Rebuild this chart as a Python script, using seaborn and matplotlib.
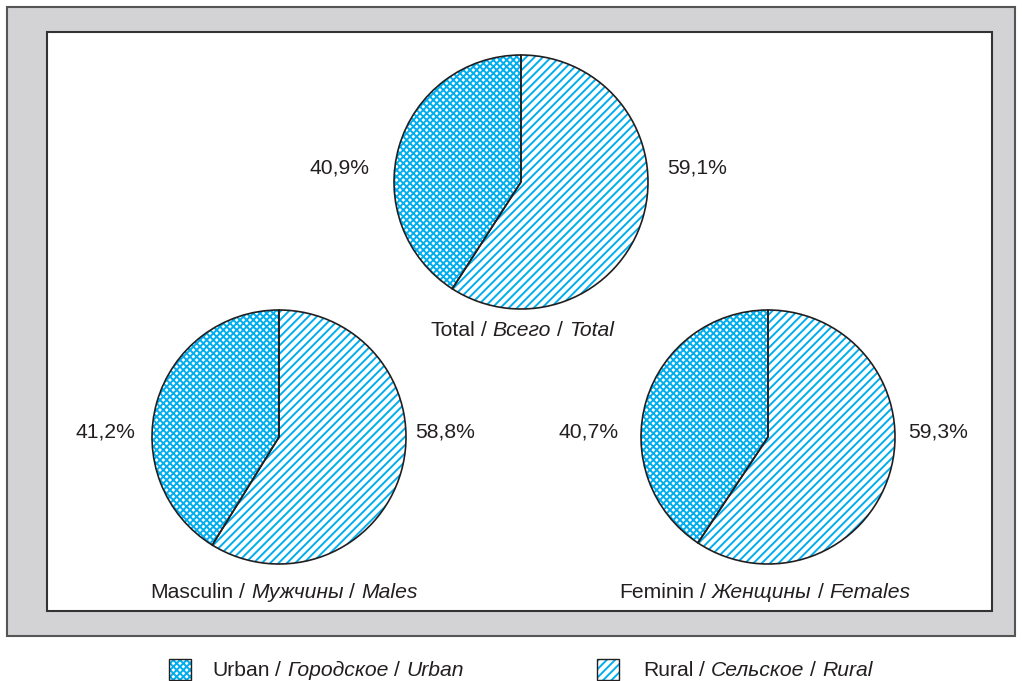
import matplotlib
matplotlib.use('Agg')
import matplotlib.pyplot as plt
import seaborn as sns
from matplotlib.patches import Rectangle

# donnees
groups = ['Total', 'Males', 'Females']
urban = [40.9, 41.2, 40.7]
rural = [59.1, 58.8, 59.3]
titles = [
    [('Total', 'normal'), ('/', 'normal'), ('Всего', 'italic'), ('/', 'normal'), ('Total', 'italic')],
    [('Masculin', 'normal'), ('/', 'normal'), ('Мужчины', 'italic'), ('/', 'normal'), ('Males', 'italic')],
    [('Feminin', 'normal'), ('/', 'normal'), ('Женщины', 'italic'), ('/', 'normal'), ('Females', 'italic')],
]
legend_labels = [
    [('Urban', 'normal'), ('/', 'normal'), ('Городское', 'italic'), ('/', 'normal'), ('Urban', 'italic')],
    [('Rural', 'normal'), ('/', 'normal'), ('Сельское', 'italic'), ('/', 'normal'), ('Rural', 'italic')],
]

sns.set_style('white')
plt.rcParams['font.family'] = ['Liberation Sans', 'DejaVu Sans']
plt.rcParams['hatch.linewidth'] = 1.4

cyan = '#00AEEF'
hatches = ['xxxxx', '////']
W, H = 1022, 681
FS = 15.2

fig = plt.figure(figsize=(W / 100, H / 100), dpi=100)
ax = fig.add_axes([0, 0, 1, 1])
renderer = fig.canvas.get_renderer()


def mixed_text(x, y, parts, ha='center'):
    # mots separes par un espace, style different par morceau
    arts = [ax.text(0, y, s, style=st, fontsize=FS, va='center', ha='left', color='#231f20')
            for s, st in parts]
    sp = ax.text(0, y, 'a a', fontsize=FS)
    sp2 = ax.text(0, y, 'aa', fontsize=FS)
    space = sp.get_window_extent(renderer).width - sp2.get_window_extent(renderer).width
    sp.remove()
    sp2.remove()
    widths = [t.get_window_extent(renderer).width for t in arts]
    total = sum(widths) + space * (len(arts) - 1)
    x0 = x - total / 2 if ha == 'center' else x
    for t, w in zip(arts, widths):
        t.set_x(x0)
        x0 += w + space


# cadres
ax.add_patch(Rectangle((7, H - 636), 1008, 629, facecolor='#d3d3d5', edgecolor='#555555', lw=1.5))
ax.add_patch(Rectangle((47, H - 611), 945, 579, facecolor='white', edgecolor='#333333', lw=1.5))

centers = [(521, H - 182), (279, H - 437), (768, H - 437)]
title_pos = [(522, H - 330), (284, H - 592), (765, H - 592)]
lab_dx = [(-181, 176), (-174, 166), (-179, 170)]
lab_dy = [14, 5, 5]
R = 127

for i, g in enumerate(groups):
    vals = [urban[i], rural[i]]
    # hachures
    ax.pie(vals, startangle=90, counterclock=True, center=centers[i], radius=R,
           colors=['white', 'white'], hatch=hatches, frame=True,
           wedgeprops={'edgecolor': cyan, 'linewidth': 0})
    # contours
    ax.pie(vals, startangle=90, counterclock=True, center=centers[i], radius=R,
           colors=['none', 'none'], frame=True,
           wedgeprops={'edgecolor': '#231f20', 'linewidth': 1.2})
    cx, cy = centers[i]
    for v, dx in zip(vals, lab_dx[i]):
        ax.text(cx + dx, cy + lab_dy[i], f'{v:.1f}'.replace('.', ',') + '%',
                fontsize=FS, ha='center', va='center', color='#231f20')
    mixed_text(title_pos[i][0], title_pos[i][1], titles[i])

# legende
leg_sq = [169, 597]
leg_tx = [212, 643]
for j in range(2):
    ax.add_patch(Rectangle((leg_sq[j], H - 680), 22, 21, facecolor='white',
                           edgecolor=cyan, lw=0, hatch=hatches[j]))
    ax.add_patch(Rectangle((leg_sq[j], H - 680), 22, 21, facecolor='none',
                           edgecolor='#231f20', lw=1.0))
    mixed_text(leg_tx[j], H - 670, legend_labels[j], ha='left')

ax.set_xlim(0, W)
ax.set_ylim(0, H)
ax.set_aspect('auto')
ax.axis('off')

fig.savefig('out.png', dpi=100)
